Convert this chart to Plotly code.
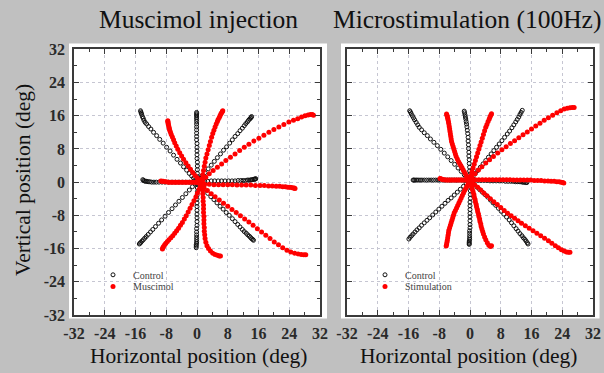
import plotly.graph_objects as go

# ---------------- tick labels ----------------
tick_vals = [-32, -24, -16, -8, 0, 8, 16, 24, 32]
tick_labels = ["-32", "-24", "-16", "-8", "0", "8", "16", "24", "32"]

# ================= LEFT PANEL: Muscimol injection =================
# Control trajectories (open black circles)
musc_ctrl_ul_x = [0, -0.2, -0.5, -0.9, -1.4, -2.0, -2.7, -3.5, -4.3, -5.2, -6.1, -7.0, -7.9, -8.8, -9.7, -10.5, -11.3, -12.0, -12.6, -13.1, -13.5, -13.8, -14.0, -14.2, -14.4, -14.5, -14.6, -14.7]
musc_ctrl_ul_y = [0, 0.2, 0.5, 1.0, 1.5, 2.1, 2.9, 3.7, 4.6, 5.5, 6.5, 7.5, 8.4, 9.4, 10.3, 11.2, 12.0, 12.8, 13.4, 14.0, 14.4, 14.9, 15.4, 15.8, 16.3, 16.6, 16.9, 17.2]
musc_ctrl_u_x = [0.2, 0.2, 0.2, 0.1, 0.1, 0.1, 0.1, 0.0, 0.0, 0.0, 0.0, 0.0, -0.1, -0.1, -0.1, -0.1, -0.1, -0.1, -0.1, -0.1, -0.1, -0.1, -0.1, -0.1, -0.1]
musc_ctrl_u_y = [0, 0.6, 1.3, 2.1, 3.0, 3.9, 4.8, 5.7, 6.6, 7.5, 8.4, 9.3, 10.2, 11.0, 11.8, 12.6, 13.3, 14.0, 14.6, 15.1, 15.5, 15.9, 16.2, 16.5, 16.8]
musc_ctrl_ur_x = [0.3, 0.8, 1.4, 2.1, 2.9, 3.7, 4.5, 5.3, 6.1, 6.9, 7.7, 8.5, 9.2, 9.9, 10.6, 11.2, 11.8, 12.3, 12.7, 13.1, 13.4, 13.7, 13.9, 14.1, 14.2]
musc_ctrl_ur_y = [0.3, 0.9, 1.6, 2.3, 3.2, 4.1, 5.0, 5.9, 6.8, 7.7, 8.5, 9.4, 10.2, 11.0, 11.7, 12.4, 13.0, 13.6, 14.1, 14.5, 14.9, 15.2, 15.4, 15.6, 15.8]
musc_ctrl_r_x = [0.5, 1.2, 2.0, 2.8, 3.7, 4.6, 5.5, 6.4, 7.3, 8.2, 9.1, 9.9, 10.7, 11.4, 12.0, 12.6, 13.1, 13.5, 13.9, 14.2, 14.5, 14.8, 15.0, 15.2, 15.3]
musc_ctrl_r_y = [0.0, 0.1, 0.2, 0.2, 0.3, 0.3, 0.3, 0.3, 0.3, 0.3, 0.3, 0.3, 0.4, 0.4, 0.4, 0.4, 0.5, 0.5, 0.5, 0.6, 0.6, 0.7, 0.7, 0.8, 0.8]
musc_ctrl_l_x = [-0.5, -1.2, -2.0, -2.9, -3.8, -4.7, -5.6, -6.5, -7.4, -8.3, -9.1, -9.9, -10.6, -11.2, -11.8, -12.3, -12.7, -13.1, -13.4, -13.7, -13.9, -14.1]
musc_ctrl_l_y = [0, 0, 0, 0, 0, 0, 0, 0, 0, 0, 0, 0, 0, 0, 0, 0.1, 0.1, 0.2, 0.2, 0.3, 0.4, 0.6]
musc_ctrl_dl_x = [-0.5, -1.2, -2.0, -2.9, -3.8, -4.7, -5.6, -6.5, -7.4, -8.3, -9.2, -10.0, -10.8, -11.5, -12.1, -12.7, -13.2, -13.6, -14.0, -14.3, -14.6, -14.8, -15.0]
musc_ctrl_dl_y = [-0.5, -1.1, -1.9, -2.8, -3.7, -4.6, -5.5, -6.4, -7.3, -8.2, -9.1, -9.9, -10.7, -11.4, -12.0, -12.6, -13.1, -13.5, -13.9, -14.2, -14.5, -14.7, -14.9]
musc_ctrl_d_x = [0.1, 0.1, 0.1, 0, 0, 0, 0, 0, 0, 0, 0, 0, -0.1, -0.1, -0.1, -0.1, -0.1, -0.1, -0.1, -0.2, -0.2, -0.2]
musc_ctrl_d_y = [-0.6, -1.4, -2.3, -3.2, -4.1, -5.0, -5.9, -6.8, -7.7, -8.6, -9.5, -10.4, -11.2, -12.0, -12.7, -13.3, -13.8, -14.3, -14.7, -15.1, -15.4, -15.8]
musc_ctrl_dr_x = [0.5, 1.2, 2.0, 2.8, 3.6, 4.4, 5.2, 6.0, 6.8, 7.6, 8.4, 9.2, 9.9, 10.6, 11.2, 11.8, 12.3, 12.8, 13.2, 13.6, 13.9, 14.2, 14.5, 14.7]
musc_ctrl_dr_y = [-0.5, -1.2, -1.9, -2.7, -3.5, -4.2, -5.0, -5.8, -6.5, -7.3, -8.0, -8.8, -9.5, -10.2, -10.8, -11.4, -11.9, -12.3, -12.7, -13.0, -13.3, -13.6, -13.8, -14.0]

# Muscimol trajectories (filled red)
musc_ul_x = [1.0, 0.8, 0.6, 0.1, -0.5, -1.1, -1.7, -2.3, -2.9, -3.5, -4.0, -4.5, -5.0, -5.4, -5.8, -6.1, -6.4, -6.7, -6.9, -7.1, -7.2, -7.3, -7.4, -7.5, -7.5, -7.6, -7.6]
musc_ul_y = [-0.3, 0.1, 0.4, 1.0, 1.6, 2.3, 3.1, 3.9, 4.7, 5.5, 6.3, 7.1, 7.9, 8.7, 9.5, 10.2, 10.9, 11.5, 12.0, 12.5, 12.9, 13.3, 13.7, 14.0, 14.3, 14.6, 14.8]
musc_ur_x = [1.2, 1.2, 1.3, 1.5, 1.7, 1.9, 2.1, 2.3, 2.6, 2.9, 3.2, 3.5, 3.8, 4.1, 4.4, 4.7, 5.0, 5.3, 5.5, 5.8, 6.0, 6.2, 6.4, 6.6, 6.7]
musc_ur_y = [-0.3, 0.3, 0.8, 1.8, 2.8, 3.8, 4.8, 5.8, 6.8, 7.8, 8.8, 9.8, 10.8, 11.7, 12.5, 13.3, 14.0, 14.6, 15.1, 15.6, 16.0, 16.4, 16.7, 17.0, 17.2]
musc_ru_x = [1.2, 1.5, 2.3, 3.2, 4.2, 5.3, 6.4, 7.5, 8.7, 9.9, 11.1, 12.3, 13.5, 14.8, 16.1, 17.4, 18.7, 20.0, 21.3, 22.6, 23.9, 25.1, 26.2, 27.2, 28.1, 28.9, 29.5, 30.0, 30.3]
musc_ru_y = [-0.2, 0.5, 1.2, 2.0, 2.8, 3.6, 4.4, 5.2, 6.0, 6.8, 7.6, 8.4, 9.1, 9.9, 10.6, 11.3, 12.0, 12.7, 13.3, 13.9, 14.5, 14.9, 15.3, 15.7, 16.0, 16.2, 16.3, 16.3, 16.1]
musc_r_x = [1.5, 2.0, 3.2, 4.4, 5.6, 6.8, 8.0, 9.2, 10.4, 11.6, 12.8, 14.0, 15.2, 16.4, 17.5, 18.6, 19.6, 20.6, 21.5, 22.3, 23.0, 23.6, 24.1, 24.6, 25.0, 25.3, 25.5]
musc_r_y = [-0.4, -0.5, -0.5, -0.6, -0.6, -0.6, -0.6, -0.6, -0.7, -0.7, -0.7, -0.7, -0.8, -0.8, -0.8, -0.9, -0.9, -1.0, -1.0, -1.1, -1.1, -1.2, -1.2, -1.3, -1.4, -1.4, -1.5]
musc_l_x = [0.5, 0.0, -0.5, -1.0, -1.5, -2.0, -2.5, -3.0, -3.5, -4.0, -4.5, -5.0, -5.5, -6.0, -6.5, -7.0, -7.5, -8.0, -8.4, -8.8, -9.1, -9.4]
musc_l_y = [-0.2, -0.1, 0, 0, 0, 0, 0, 0, 0, 0, 0, 0, 0, 0, 0, 0, 0, 0.1, 0.1, 0.2, 0.2, 0.3]
musc_dr_x = [1.3, 1.8, 2.7, 3.7, 4.7, 5.8, 6.9, 8.0, 9.1, 10.2, 11.3, 12.4, 13.5, 14.6, 15.7, 16.8, 17.9, 19.0, 20.1, 21.2, 22.3, 23.4, 24.4, 25.4, 26.3, 27.1, 27.8, 28.3]
musc_dr_y = [-0.7, -1.2, -2.0, -2.8, -3.5, -4.3, -5.1, -5.8, -6.6, -7.3, -8.1, -8.9, -9.6, -10.4, -11.2, -12.0, -12.8, -13.6, -14.4, -15.1, -15.8, -16.4, -16.8, -17.1, -17.3, -17.4, -17.5, -17.5]
musc_d_x = [1.3, 1.4, 1.5, 1.5, 1.6, 1.6, 1.7, 1.7, 1.7, 1.8, 1.8, 1.8, 1.9, 1.9, 2.0, 2.1, 2.3, 2.6, 3.0, 3.5, 4.1, 4.7, 5.3, 5.8, 6.1]
musc_d_y = [-0.5, -1.0, -1.9, -2.8, -3.7, -4.6, -5.5, -6.4, -7.3, -8.2, -9.1, -10.0, -10.9, -11.8, -12.7, -13.6, -14.5, -15.3, -16.0, -16.6, -17.1, -17.4, -17.6, -17.8, -17.8]
musc_dl_x = [1.0, 0.9, 0.5, 0.1, -0.3, -0.8, -1.3, -1.8, -2.3, -2.8, -3.3, -3.8, -4.3, -4.8, -5.3, -5.8, -6.3, -6.8, -7.3, -7.7, -8.1, -8.4, -8.7, -8.9, -9.0]
musc_dl_y = [-0.6, -1.0, -1.8, -2.7, -3.6, -4.5, -5.4, -6.3, -7.2, -8.1, -8.9, -9.7, -10.4, -11.1, -11.7, -12.3, -12.9, -13.4, -13.9, -14.3, -14.7, -15.1, -15.5, -15.8, -16.1]

# ================= RIGHT PANEL: Microstimulation (100Hz) =================
stim_ctrl_ul_x = [-0.3, -0.8, -1.5, -2.3, -3.1, -4.0, -4.9, -5.8, -6.7, -7.6, -8.5, -9.4, -10.3, -11.1, -11.9, -12.6, -13.2, -13.6, -14.0, -14.4, -14.7, -15.0, -15.3, -15.5, -15.7]
stim_ctrl_ul_y = [0.6, 1.1, 1.8, 2.6, 3.4, 4.3, 5.2, 6.1, 7.0, 7.9, 8.8, 9.6, 10.4, 11.2, 11.9, 12.6, 13.2, 13.8, 14.4, 15.0, 15.5, 16.0, 16.5, 16.9, 17.2]
stim_ctrl_u_x = [0, 0, -0.1, -0.1, -0.2, -0.2, -0.3, -0.3, -0.4, -0.4, -0.5, -0.5, -0.6, -0.7, -0.8, -0.9, -1.0, -1.1, -1.2, -1.3, -1.4, -1.5]
stim_ctrl_u_y = [1.0, 1.8, 2.7, 3.6, 4.5, 5.4, 6.3, 7.2, 8.1, 9.0, 9.9, 10.8, 11.7, 12.5, 13.3, 14.0, 14.6, 15.2, 15.7, 16.2, 16.7, 17.1]
stim_ctrl_ur_x = [0.3, 0.8, 1.4, 2.0, 2.7, 3.4, 4.1, 4.8, 5.5, 6.2, 6.9, 7.6, 8.3, 9.0, 9.7, 10.3, 10.9, 11.4, 11.9, 12.3, 12.7, 13.0, 13.3, 13.6]
stim_ctrl_ur_y = [0.8, 1.4, 2.1, 2.8, 3.6, 4.4, 5.2, 6.0, 6.8, 7.6, 8.4, 9.2, 10.0, 10.8, 11.6, 12.3, 13.1, 13.8, 14.5, 15.1, 15.7, 16.3, 16.8, 17.3]
stim_ctrl_l_x = [-0.5, -1.1, -1.7, -2.3, -2.9, -3.5, -4.1, -4.7, -5.3, -5.9, -6.5, -7.1, -7.7, -8.3, -8.9, -9.5, -10.1, -10.7, -11.3, -11.9, -12.5, -13.0, -13.5, -13.9, -14.3, -14.6, -14.8]
stim_ctrl_l_y = [0.5, 0.5, 0.5, 0.5, 0.5, 0.5, 0.5, 0.5, 0.5, 0.5, 0.5, 0.5, 0.5, 0.5, 0.5, 0.5, 0.5, 0.5, 0.5, 0.5, 0.5, 0.5, 0.5, 0.5, 0.5, 0.5, 0.5]
stim_ctrl_r_x = [0.5, 1.2, 2.0, 2.8, 3.6, 4.4, 5.2, 6.0, 6.8, 7.6, 8.4, 9.2, 9.9, 10.6, 11.2, 11.8, 12.3, 12.8, 13.2, 13.6, 13.9, 14.2, 14.5, 14.8]
stim_ctrl_r_y = [0.5, 0.5, 0.4, 0.4, 0.4, 0.4, 0.3, 0.3, 0.3, 0.3, 0.3, 0.2, 0.2, 0.2, 0.2, 0.1, 0.1, 0.1, 0.1, 0.0, 0.0, 0.0, -0.1, -0.1]
stim_ctrl_dl_x = [-0.4, -1.0, -1.7, -2.5, -3.3, -4.1, -4.9, -5.7, -6.5, -7.3, -8.1, -8.9, -9.7, -10.5, -11.2, -11.9, -12.6, -13.2, -13.8, -14.3, -14.8, -15.2, -15.6, -15.9]
stim_ctrl_dl_y = [0.1, -0.4, -1.0, -1.7, -2.4, -3.1, -3.8, -4.4, -5.1, -5.8, -6.5, -7.2, -7.9, -8.6, -9.2, -9.8, -10.4, -11.0, -11.5, -12.0, -12.5, -12.9, -13.3, -13.7]
stim_ctrl_d_x = [0.1, 0.1, 0.1, 0.1, 0.1, 0, 0, 0, 0, 0, 0, 0, 0, -0.1, -0.1, -0.1, -0.1, -0.1, -0.2, -0.2, -0.2, -0.2]
stim_ctrl_d_y = [-0.4, -1.2, -2.1, -3.0, -3.9, -4.8, -5.7, -6.6, -7.5, -8.4, -9.3, -10.2, -11.0, -11.7, -12.3, -12.9, -13.4, -13.8, -14.2, -14.5, -14.8, -15.0]
stim_ctrl_dr_x = [0.5, 1.1, 1.8, 2.5, 3.2, 3.9, 4.6, 5.3, 6.0, 6.7, 7.4, 8.1, 8.8, 9.5, 10.2, 10.8, 11.4, 12.0, 12.5, 13.0, 13.5, 13.9, 14.3, 14.6, 14.9, 15.1]
stim_ctrl_dr_y = [0.0, -0.6, -1.2, -1.8, -2.4, -3.0, -3.6, -4.3, -5.0, -5.6, -6.3, -7.0, -7.7, -8.4, -9.1, -9.8, -10.5, -11.2, -11.8, -12.4, -12.9, -13.4, -13.8, -14.2, -14.6, -14.9]

# Stimulation trajectories (filled red)
stim_ul_x = [0.0, -0.3, -0.6, -0.9, -1.2, -1.5, -1.8, -2.1, -2.4, -2.7, -3.0, -3.3, -3.6, -3.8, -4.0, -4.2, -4.4, -4.6, -4.8, -4.9, -5.0, -5.1, -5.2, -5.3, -5.4, -5.5, -5.6, -5.7, -5.8, -5.9, -6.0, -6.1]
stim_ul_y = [0.2, 0.5, 1.0, 1.5, 2.0, 2.5, 3.0, 3.5, 4.0, 4.5, 5.0, 5.6, 6.2, 6.8, 7.4, 8.0, 8.6, 9.2, 9.8, 10.4, 11.0, 11.6, 12.2, 12.8, 13.4, 14.0, 14.5, 15.0, 15.4, 15.8, 16.1, 16.4]
stim_ur_x = [0.0, 0.1, 0.3, 0.5, 0.8, 1.1, 1.4, 1.7, 2.0, 2.3, 2.6, 2.9, 3.2, 3.5, 3.8, 4.1, 4.4, 4.7, 5.0, 5.2, 5.4, 5.6]
stim_ur_y = [0.3, 0.8, 1.6, 2.5, 3.4, 4.3, 5.2, 6.1, 7.0, 7.9, 8.8, 9.7, 10.6, 11.5, 12.4, 13.2, 13.9, 14.6, 15.2, 15.7, 16.1, 16.5]
stim_ru_x = [0.2, 0.5, 1.3, 2.2, 3.1, 4.1, 5.1, 6.1, 7.2, 8.3, 9.4, 10.5, 11.6, 12.7, 13.8, 14.9, 16.0, 17.1, 18.2, 19.3, 20.4, 21.5, 22.6, 23.6, 24.5, 25.3, 26.0, 26.6, 27.1]
stim_ru_y = [0.6, 1.2, 2.0, 2.9, 3.7, 4.6, 5.4, 6.2, 7.0, 7.8, 8.5, 9.3, 10.0, 10.7, 11.4, 12.1, 12.8, 13.5, 14.2, 14.9, 15.5, 16.1, 16.7, 17.2, 17.6, 17.8, 17.9, 18.0, 18.0]
stim_r_x = [0.2, 0.6, 1.4, 2.3, 3.2, 4.1, 5.0, 5.9, 6.8, 7.7, 8.6, 9.5, 10.4, 11.3, 12.2, 13.1, 14.0, 14.9, 15.8, 16.7, 17.6, 18.5, 19.4, 20.3, 21.1, 21.9, 22.6, 23.2, 23.7, 24.1, 24.4]
stim_r_y = [0.5, 0.6, 0.6, 0.6, 0.6, 0.6, 0.6, 0.6, 0.6, 0.6, 0.6, 0.6, 0.6, 0.5, 0.5, 0.5, 0.5, 0.5, 0.5, 0.4, 0.4, 0.4, 0.3, 0.3, 0.2, 0.2, 0.1, 0.1, 0.0, -0.1, -0.2]
stim_l_x = [0.0, -0.3, -0.7, -1.1, -1.5, -1.9, -2.3, -2.7, -3.1, -3.5, -3.9, -4.3, -4.7, -5.1, -5.5, -5.9, -6.3, -6.7, -7.0, -7.3, -7.6, -7.8]
stim_l_y = [0.5, 0.5, 0.5, 0.5, 0.5, 0.5, 0.5, 0.5, 0.5, 0.5, 0.5, 0.5, 0.5, 0.5, 0.5, 0.5, 0.5, 0.6, 0.6, 0.7, 0.8, 0.9]
stim_dr_x = [0.2, 0.5, 1.2, 2.0, 2.8, 3.6, 4.4, 5.3, 6.2, 7.1, 8.0, 8.9, 9.8, 10.7, 11.6, 12.5, 13.4, 14.4, 15.4, 16.4, 17.4, 18.4, 19.4, 20.4, 21.3, 22.2, 23.0, 23.8, 24.5, 25.1, 25.6, 26.0]
stim_dr_y = [0.3, 0.0, -0.6, -1.2, -1.9, -2.6, -3.3, -4.0, -4.7, -5.4, -6.1, -6.8, -7.5, -8.1, -8.7, -9.3, -9.9, -10.5, -11.1, -11.7, -12.3, -12.9, -13.5, -14.1, -14.7, -15.3, -15.8, -16.3, -16.6, -16.8, -16.9, -16.9]
stim_d_x = [0.1, 0.2, 0.4, 0.6, 0.8, 1.0, 1.1, 1.3, 1.4, 1.6, 1.7, 1.9, 2.0, 2.2, 2.3, 2.5, 2.6, 2.8, 2.9, 3.1, 3.3, 3.5, 3.8, 4.1, 4.5, 4.9, 5.3, 5.6]
stim_d_y = [0.0, -0.5, -1.1, -1.7, -2.3, -2.9, -3.5, -4.1, -4.7, -5.3, -5.9, -6.5, -7.1, -7.7, -8.3, -8.9, -9.5, -10.1, -10.7, -11.3, -11.9, -12.5, -13.2, -13.9, -14.6, -15.2, -15.5, -15.3]
stim_dl_x = [0.0, -0.2, -0.5, -0.8, -1.1, -1.4, -1.7, -2.0, -2.3, -2.6, -2.9, -3.2, -3.5, -3.8, -4.1, -4.3, -4.5, -4.7, -4.9, -5.1, -5.3, -5.5, -5.6, -5.7, -5.8, -5.9, -6.0, -6.1, -6.2]
stim_dl_y = [0.3, 0.0, -0.5, -1.0, -1.5, -2.0, -2.6, -3.2, -3.8, -4.4, -5.0, -5.6, -6.2, -6.8, -7.4, -8.0, -8.6, -9.2, -9.8, -10.4, -11.0, -11.6, -12.2, -12.8, -13.4, -14.0, -14.5, -15.0, -15.4]

# ---------------- assemble ----------------
def join(*lists):
    out = []
    for l in lists:
        out.extend(l)
    return out

musc_ctrl_x = join(musc_ctrl_ul_x, musc_ctrl_u_x, musc_ctrl_ur_x, musc_ctrl_r_x, musc_ctrl_l_x, musc_ctrl_dl_x, musc_ctrl_d_x, musc_ctrl_dr_x)
musc_ctrl_y = join(musc_ctrl_ul_y, musc_ctrl_u_y, musc_ctrl_ur_y, musc_ctrl_r_y, musc_ctrl_l_y, musc_ctrl_dl_y, musc_ctrl_d_y, musc_ctrl_dr_y)
musc_x = join(musc_ul_x, musc_ur_x, musc_ru_x, musc_r_x, musc_l_x, musc_dr_x, musc_d_x, musc_dl_x)
musc_y = join(musc_ul_y, musc_ur_y, musc_ru_y, musc_r_y, musc_l_y, musc_dr_y, musc_d_y, musc_dl_y)
stim_ctrl_x = join(stim_ctrl_ul_x, stim_ctrl_u_x, stim_ctrl_ur_x, stim_ctrl_l_x, stim_ctrl_r_x, stim_ctrl_dl_x, stim_ctrl_d_x, stim_ctrl_dr_x)
stim_ctrl_y = join(stim_ctrl_ul_y, stim_ctrl_u_y, stim_ctrl_ur_y, stim_ctrl_l_y, stim_ctrl_r_y, stim_ctrl_dl_y, stim_ctrl_d_y, stim_ctrl_dr_y)
stim_x = join(stim_ul_x, stim_ur_x, stim_ru_x, stim_r_x, stim_l_x, stim_dr_x, stim_d_x, stim_dl_x)
stim_y = join(stim_ul_y, stim_ur_y, stim_ru_y, stim_r_y, stim_l_y, stim_dr_y, stim_d_y, stim_dl_y)

SERIF = "Liberation Serif, Times New Roman, serif"
W, H = 604, 373

ctrl_marker = dict(symbol="circle-open", size=4, color="#111111", line=dict(width=1, color="#111111"))
red_marker = dict(symbol="circle", size=5, color="#ff0000", line=dict(width=0))

fig = go.Figure()
fig.add_trace(go.Scatter(x=musc_ctrl_x, y=musc_ctrl_y, mode="markers", name="Control",
                         marker=ctrl_marker, xaxis="x", yaxis="y", legend="legend"))
fig.add_trace(go.Scatter(x=musc_x, y=musc_y, mode="markers", name="Muscimol",
                         marker=red_marker, xaxis="x", yaxis="y", legend="legend2"))
fig.add_trace(go.Scatter(x=stim_ctrl_x, y=stim_ctrl_y, mode="markers", name="Control",
                         marker=ctrl_marker, xaxis="x2", yaxis="y2", legend="legend3"))
fig.add_trace(go.Scatter(x=stim_x, y=stim_y, mode="markers", name="Stimulation",
                         marker=red_marker, xaxis="x2", yaxis="y2", legend="legend4"))

def px_x(p):
    return p / W

def px_y(p):
    return 1 - p / H

axis_common = dict(
    range=[-32, 32], tickmode="array", tickvals=tick_vals, ticktext=tick_labels,
    showline=True, linecolor="#3a3a3a", linewidth=1.5, mirror="ticks",
    ticks="inside", ticklen=5, tickwidth=1.2, tickcolor="#3a3a3a",
    showgrid=True, gridcolor="#c6c6d2", gridwidth=1, griddash="dot",
    zeroline=False, fixedrange=True, automargin=False,
    minor=dict(tick0=0, dtick=4, ticks="inside", ticklen=3, tickwidth=1, tickcolor="#3a3a3a", showgrid=False),
    tickfont=dict(family=SERIF, size=16, color="#2a2a2a", weight="bold"),
)

fig.update_layout(
    width=W, height=H, autosize=False,
    margin=dict(l=0, r=0, t=0, b=0, pad=0, autoexpand=False),
    paper_bgcolor="#c0c0c0", plot_bgcolor="white",
    xaxis=dict(domain=[px_x(74), px_x(320)], anchor="y", ticklabelstandoff=3, **axis_common),
    yaxis=dict(domain=[px_y(315), px_y(49.3)], anchor="x", ticklabelstandoff=4, **axis_common),
    xaxis2=dict(domain=[px_x(347), px_x(593)], anchor="y2", ticklabelstandoff=3, **axis_common),
    yaxis2=dict(domain=[px_y(315), px_y(49.3)], anchor="x2", showticklabels=False, **axis_common),
    shapes=[
        dict(type="rect", xref="paper", yref="paper", x0=px_x(69), x1=px_x(327), y0=px_y(318.5), y1=px_y(43.5),
             fillcolor="white", line=dict(width=0), layer="below"),
        dict(type="rect", xref="paper", yref="paper", x0=px_x(341), x1=px_x(599.5), y0=px_y(318.5), y1=px_y(43.5),
             fillcolor="white", line=dict(width=0), layer="below"),
    ],
    annotations=[
        dict(text="Muscimol injection", x=px_x(198.5), y=px_y(19), xref="paper", yref="paper",
             showarrow=False, xanchor="center", yanchor="middle", font=dict(family=SERIF, size=25.5, color="#111111")),
        dict(text="Microstimulation (100Hz)", x=px_x(467), y=px_y(19), xref="paper", yref="paper",
             showarrow=False, xanchor="center", yanchor="middle", font=dict(family=SERIF, size=25.5, color="#111111")),
        dict(text="Horizontal position (deg)", x=px_x(198), y=px_y(356), xref="paper", yref="paper",
             showarrow=False, xanchor="center", yanchor="middle", font=dict(family=SERIF, size=21.5, color="#111111")),
        dict(text="Horizontal position (deg)", x=px_x(468), y=px_y(356), xref="paper", yref="paper",
             showarrow=False, xanchor="center", yanchor="middle", font=dict(family=SERIF, size=21.5, color="#111111")),
        dict(text="Vertical position (deg)", x=px_x(23), y=px_y(180), xref="paper", yref="paper", textangle=-90,
             showarrow=False, xanchor="center", yanchor="middle", font=dict(family=SERIF, size=21.5, color="#111111")),
    ],
    showlegend=True,
)

leg_common = dict(bgcolor="rgba(0,0,0,0)", borderwidth=0, font=dict(family=SERIF, size=10, color="#444444"),
                  xref="paper", yref="paper", xanchor="left", yanchor="middle", itemwidth=30)
fig.update_layout(
    legend=dict(x=px_x(93), y=px_y(274.8), **leg_common),
    legend2=dict(x=px_x(93), y=px_y(286.4), **leg_common),
    legend3=dict(x=px_x(365), y=px_y(274.8), **leg_common),
    legend4=dict(x=px_x(365), y=px_y(286.4), **leg_common),
)

fig.write_html("out.html", config={"displayModeBar": False},
               post_script="document.body.style.margin='0';document.body.style.padding='0';document.documentElement.style.overflow='hidden';")
